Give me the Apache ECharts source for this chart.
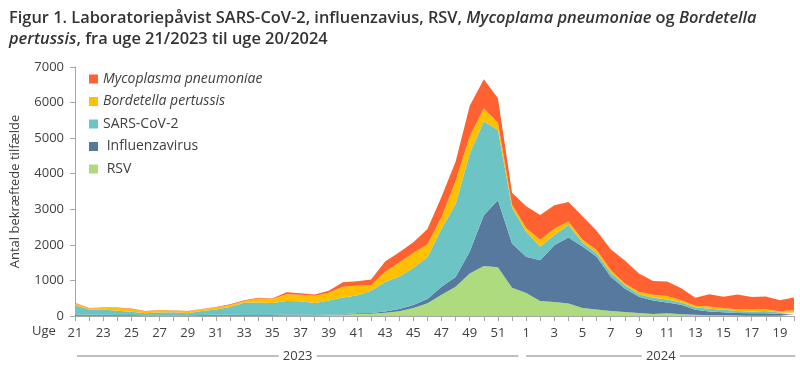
<!DOCTYPE html>
<html>
<head>
<meta charset="utf-8">
<script src="https://cdn.jsdelivr.net/npm/echarts@6/dist/echarts.min.js"></script>
<style>html,body{margin:0;padding:0;background:#fff}#c{width:800px;height:368px}</style>
</head>
<body>
<div id="c"></div>
<script>
const weeks = ['21','22','23','24','25','26','27','28','29','30','31','32','33','34','35','36','37','38','39','40','41','42','43','44','45','46','47','48','49','50','51','52','1','2','3','4','5','6','7','8','9','10','11','12','13','14','15','16','17','18','19','20'];
const rsv = [10,10,10,10,10,5,5,5,5,5,5,5,10,10,10,15,15,15,20,35,57,66,90,132,227,355,600,820,1198,1405,1372,797,645,424,396,349,227,180,142,113,85,55,75,48,33,24,20,15,10,10,10,10];
const influenza = [30,25,25,20,15,15,15,15,15,25,30,30,20,20,20,25,25,15,15,15,18,19,37,63,83,125,220,275,613,1430,1882,1243,1024,1141,1594,1858,1725,1489,961,660,453,379,305,268,142,104,84,70,65,65,47,42];
const sars = [260,150,145,120,95,55,80,85,55,110,150,215,340,348,338,384,375,338,399,469,500,622,830,917,1040,1180,1630,2055,2749,2640,1976,1010,701,387,290,358,113,94,113,95,75,80,87,66,70,76,71,57,53,67,38,48];
const bordetella = [55,27,48,72,75,55,60,48,55,48,55,60,50,112,107,189,179,198,217,301,283,160,288,393,425,355,330,650,495,367,211,81,101,189,170,94,76,95,76,47,66,86,93,61,43,61,52,51,52,51,42,60];
const mycoplasma = [15,10,10,16,13,12,10,9,10,12,15,20,25,25,15,57,47,37,56,132,122,161,284,285,300,430,570,545,858,816,679,331,613,699,665,547,660,538,585,642,519,385,410,339,227,343,311,411,353,353,306,363];
const yTicks = [0,1000,2000,3000,4000,5000,6000,7000];
const years = [{label:'2023', from:0, to:31}, {label:'2024', from:32, to:51}];

const names = {myco:'Mycoplasma pneumoniae', bord:'Bordetella pertussis', sars:'SARS-CoV-2', flu:'Influenzavirus', rsv:'RSV'};
const colors = {myco:'#FF6131', bord:'#FFC000', sars:'#6CC4C5', flu:'#58799E', rsv:'#AEDB7E'};
const FONT = 'Open Sans';

const chart = echarts.init(document.getElementById('c'));
function area(key, data){
  return {name:names[key], type:'line', stack:'total', data:data, symbol:'none', smooth:false,
    lineStyle:{width:0}, areaStyle:{color:colors[key], opacity:1}, itemStyle:{color:colors[key]}, emphasis:{disabled:true}};
}
const option = {
  animation:false,
  textStyle:{fontFamily:FONT},
  title:{
    left:4, top:3,
    text:'{n|Figur 1. Laboratoriepåvist SARS-CoV-2, influenzavius, RSV, }{i|Mycoplama pneumoniae}{n| og }{i|Bordetella}\n{i|pertussis}{n|, fra uge 21/2023 til uge 20/2024}',
    textStyle:{
      rich:{
        n:{fontFamily:FONT, fontSize:16.4, fontWeight:600, color:'#333333', lineHeight:21},
        i:{fontFamily:FONT, fontSize:16.4, fontWeight:600, fontStyle:'italic', color:'#333333', lineHeight:21}
      }
    }
  },
  legend:{
    orient:'vertical', left:84, top:67, itemWidth:9, itemHeight:9, itemGap:8.5, icon:'rect',
    data:[names.myco, names.bord, names.sars, names.flu, names.rsv],
    formatter:function(n){
      if(n===names.myco || n===names.bord) return '{i|'+n+'}';
      if(n===names.flu || n===names.rsv) return '{n| '+n+'}';
      return '{n|'+n+'}';
    },
    textStyle:{
      fontFamily:FONT, fontSize:14, color:'#404040',
      rich:{
        i:{fontFamily:FONT, fontSize:14, fontStyle:'italic', color:'#404040'},
        n:{fontFamily:FONT, fontSize:14, color:'#404040'}
      }
    }
  },
  grid:{left:75, right:6, top:67, bottom:52, containLabel:false},
  xAxis:{
    type:'category', data:weeks, boundaryGap:false,
    axisLine:{lineStyle:{color:'#a6a6a6', width:1}},
    axisTick:{show:true, interval:0, length:5, lineStyle:{color:'#a6a6a6'}},
    axisLabel:{interval:1, color:'#404040', fontSize:13, margin:11, fontFamily:FONT}
  },
  yAxis:{
    type:'value', min:0, max:7000, interval:1000,
    name:'Antal bekræftede tilfælde', nameLocation:'middle', nameGap:53, nameRotate:90,
    nameTextStyle:{color:'#404040', fontSize:13, fontFamily:FONT},
    axisLine:{show:true, lineStyle:{color:'#a6a6a6'}},
    axisTick:{show:true, length:5, lineStyle:{color:'#a6a6a6'}},
    splitLine:{show:false},
    axisLabel:{color:'#404040', fontSize:13, margin:11, fontFamily:FONT,
      formatter:function(v){return String(v);}}
  },
  series:[
    area('rsv', rsv), area('flu', influenza), area('sars', sars), area('bord', bordetella), area('myco', mycoplasma)
  ]
};
chart.setOption(option);

// decorations: "Uge" label and year brackets, positioned from axis scale
const g = [];
const step = chart.convertToPixel({xAxisIndex:0}, 1) - chart.convertToPixel({xAxisIndex:0}, 0);
const baseY = chart.convertToPixel({yAxisIndex:0}, 0);
const labelY = baseY + 18;
const yearY = baseY + 40;
g.push({type:'text', left: chart.convertToPixel({xAxisIndex:0},0) - 43, top: labelY - 9,
  style:{text:'Uge', fill:'#404040', font:'13px "'+FONT+'"'}});
years.forEach((yr, k)=>{
  const x0 = chart.convertToPixel({xAxisIndex:0}, yr.from) + (k===0?2:0);
  const x1 = chart.convertToPixel({xAxisIndex:0}, yr.to) + (k===0?step*0.45:step*0.1);
  const cx = (x0 + x1)/2;
  const half = 19;
  g.push({type:'line', shape:{x1:x0, y1:yearY, x2:cx-half, y2:yearY}, style:{stroke:'#7f7f7f', lineWidth:1}});
  g.push({type:'line', shape:{x1:cx+half, y1:yearY, x2:x1, y2:yearY}, style:{stroke:'#7f7f7f', lineWidth:1}});
  g.push({type:'text', x:cx, y:yearY, style:{text:yr.label, fill:'#404040', font:'13px "'+FONT+'"', align:'center', verticalAlign:'middle'}});
});
chart.setOption({graphic:g});
</script>
</body>
</html>
